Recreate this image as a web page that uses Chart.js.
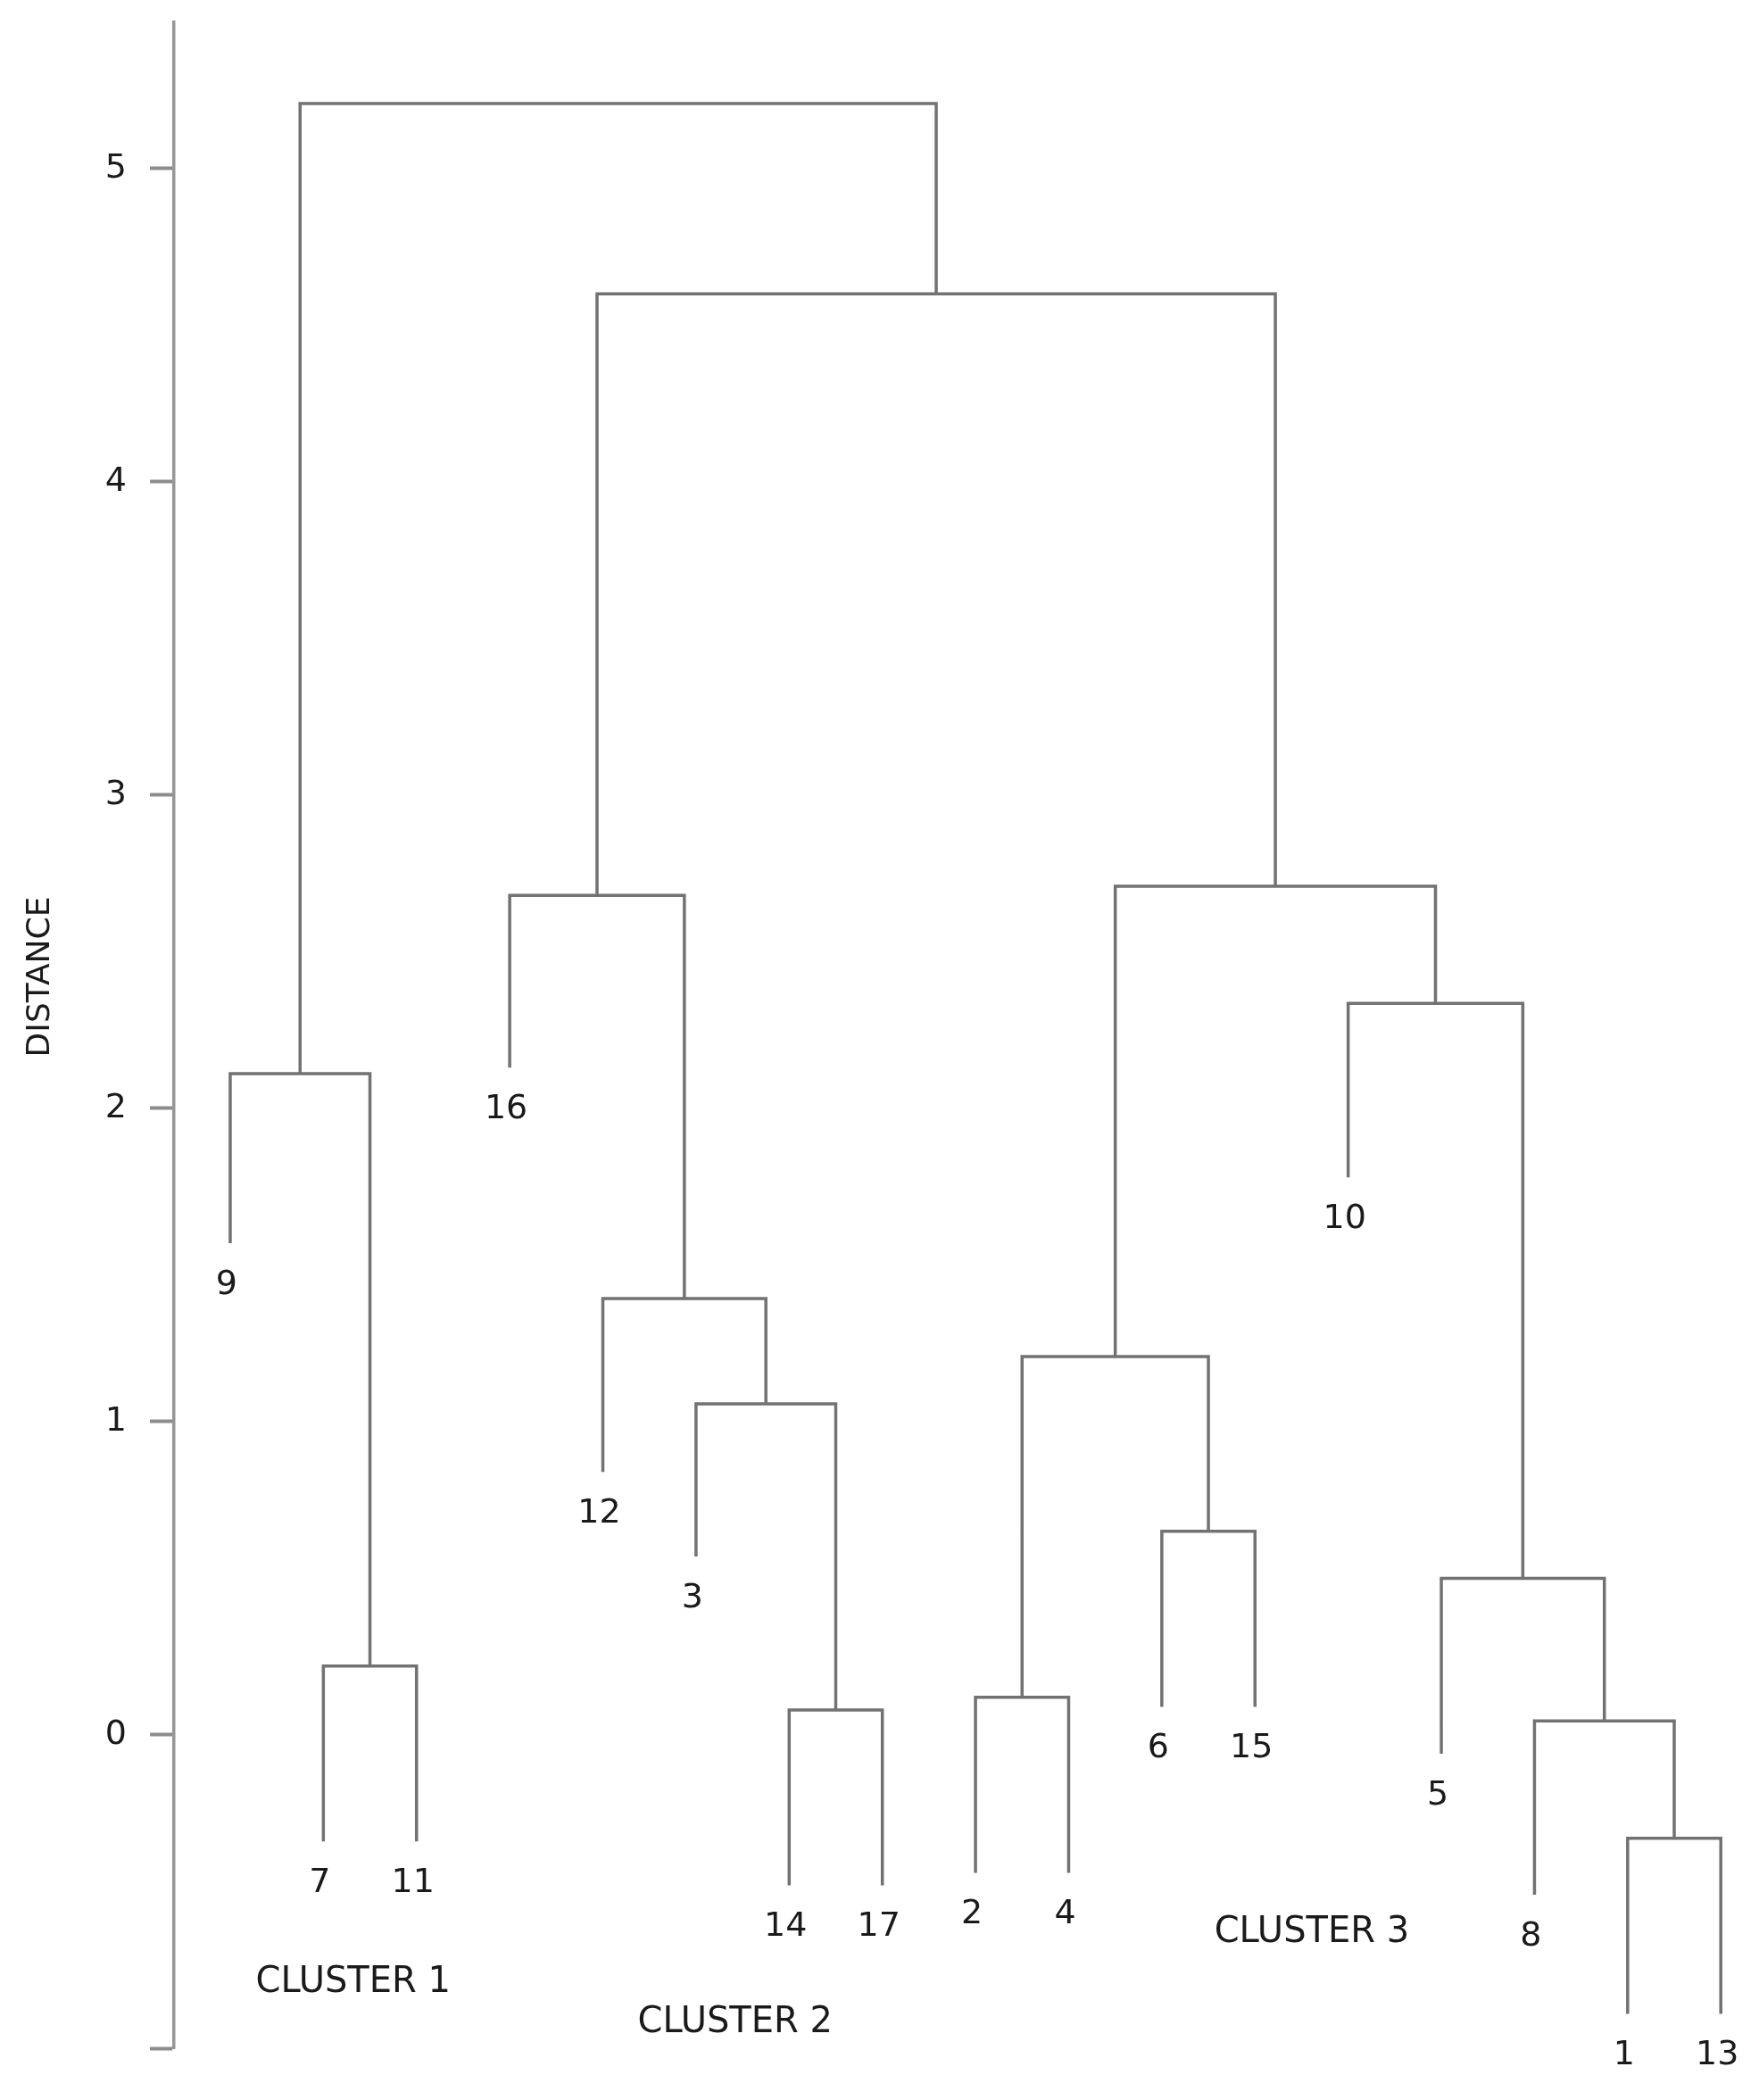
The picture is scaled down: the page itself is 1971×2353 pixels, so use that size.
<!DOCTYPE html>
<html>
<head>
<meta charset="utf-8">
<title>Dendrogram</title>
<script src="https://cdn.jsdelivr.net/npm/chart.js@4"></script>
<style>
    html, body { margin: 0; padding: 0; background: #ffffff; }
    #wrap { width: 1971px; height: 2353px; position: relative; }
</style>
</head>
<body>
<div id="wrap"><canvas id="chart"></canvas></div>
<script>
// leaves, left to right, and the distance where each leaf stem stops
const leafLabels = ['9', '7', '11', '16', '12', '3', '14', '17', '2', '4', '6', '15', '10', '5', '8', '1', '13'];
const leafEnds = [1.57, -0.34, -0.34, 2.13, 0.84, 0.57, -0.48, -0.48, -0.44, -0.44, 0.09, 0.09, 1.78, -0.06, -0.51, -0.89, -0.89];

// merges (linkage style: index < 17 is a leaf, otherwise merge index + 17)
const mergeLeft = [1, 6, 8, 10, 15, 14, 13, 5, 4, 19, 0, 12, 3, 26, 29, 27];
const mergeRight = [2, 7, 9, 11, 16, 21, 22, 18, 24, 20, 17, 23, 25, 28, 30, 31];
const mergeHeight = [0.22, 0.08, 0.12, 0.65, -0.33, 0.045, 0.50, 1.057, 1.393, 1.208, 2.111, 2.335, 2.68, 2.709, 4.60, 5.208];

// cluster captions
const clusterNames = ['CLUSTER 1', 'CLUSTER 2', 'CLUSTER 3'];
const clusterX = [1.32, 5.42, 11.61];
const clusterY = [-0.79, -0.92, -0.63];

const yTicksMin = -1;
const yTicksMax = 5.467;

const lineColor = '#727272';
const nLeaves = leafLabels.length;

// x / top of every node
const nodeX = [];
const nodeY = [];
for (let i = 0; i < nLeaves; i++)
{
    nodeX.push(i);
    nodeY.push(leafEnds[i]);
}
for (let m = 0; m < mergeHeight.length; m++)
{
    const l = mergeLeft[m], r = mergeRight[m];
    nodeX.push((nodeX[l] + nodeX[r]) / 2);
    nodeY.push(mergeHeight[m]);
}

// one U shaped link per merge
const datasets = mergeHeight.map((h, m) =>
{
    const l = mergeLeft[m], r = mergeRight[m];
    return {
        data: [
            { x: nodeX[l], y: nodeY[l] },
            { x: nodeX[l], y: h },
            { x: nodeX[r], y: h },
            { x: nodeX[r], y: nodeY[r] }
        ],
        borderColor: lineColor,
        borderWidth: 3.5,
        pointRadius: 0,
        fill: false,
        tension: 0,
        borderJoinStyle: 'miter',
        borderCapStyle: 'butt'
    };
});

const textPlugin = {
    id: 'dendroText',
    afterDatasetsDraw(chart)
    {
        const ctx = chart.ctx;
        const xs = chart.scales.x;
        const ys = chart.scales.y;
        ctx.save();
        ctx.fillStyle = '#1a1a1a';
        ctx.textAlign = 'center';
        ctx.textBaseline = 'middle';

        // leaf labels
        ctx.font = '38px "DejaVu Sans"';
        leafLabels.forEach((lab, i) =>
        {
            ctx.fillText(lab, xs.getPixelForValue(i) - 4, ys.getPixelForValue(leafEnds[i]) + 47);
        });

        // cluster captions
        ctx.font = '40px "DejaVu Sans"';
        clusterNames.forEach((name, i) =>
        {
            ctx.fillText(name, xs.getPixelForValue(clusterX[i]), ys.getPixelForValue(clusterY[i]));
        });

        // axis title
        ctx.font = '36px "DejaVu Sans"';
        ctx.translate(46, ys.getPixelForValue(2.42));
        ctx.rotate(-Math.PI / 2);
        ctx.fillText('DISTANCE', 0, 0);
        ctx.restore();
    }
};

new Chart(document.getElementById('chart'), {
    type: 'line',
    data: { datasets: datasets },
    plugins: [textPlugin],
    options: {
        responsive: true,
        maintainAspectRatio: false,
        animation: false,
        layout: { padding: { top: 25, bottom: 58, right: 0, left: 0 } },
        plugins: {
            legend: { display: false },
            tooltip: { enabled: false }
        },
        scales: {
            x: {
                type: 'linear',
                min: -0.603,
                max: 16.41,
                display: false
            },
            y: {
                type: 'linear',
                min: yTicksMin,
                max: yTicksMax,
                afterFit: (scale) =>
                {
                    scale.width = 195;
                    scale.paddingTop = 0;
                    scale.paddingBottom = 0;
                },
                border: { display: true, color: '#969696', width: 3.5 },
                grid: {
                    drawOnChartArea: false,
                    drawTicks: true,
                    tickLength: 27,
                    tickColor: '#8c8c8c',
                    tickWidth: 4
                },
                ticks: {
                    stepSize: 1,
                    includeBounds: false,
                    padding: 26,
                    color: '#1a1a1a',
                    font: { family: '"DejaVu Sans"', size: 38 },
                    callback: (v) => (v < 0 ? '' : String(v))
                }
            }
        }
    }
});
</script>
</body>
</html>
